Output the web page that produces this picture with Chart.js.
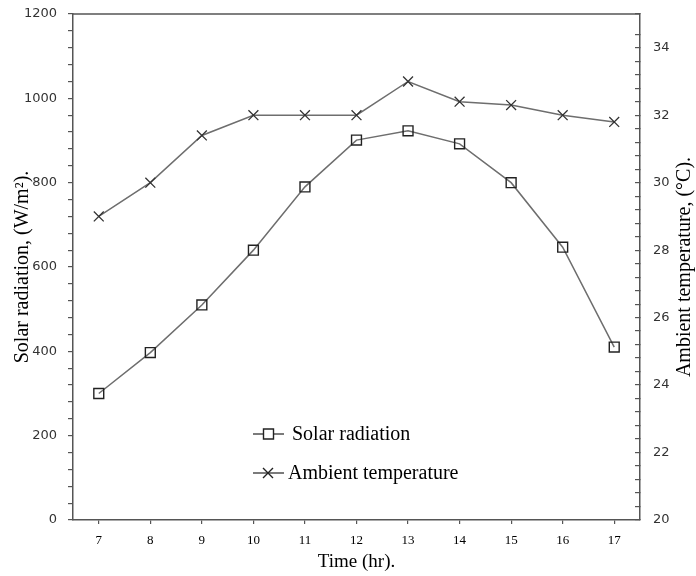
<!DOCTYPE html>
<html>
<head>
<meta charset="utf-8">
<script src="https://cdn.jsdelivr.net/npm/chart.js@4.4.1/dist/chart.umd.min.js"></script>
<style>
  html, body { margin: 0; padding: 0; background: #fff; }
  #wrap { width: 696px; height: 576px; }
</style>
</head>
<body>
<div id="wrap"><canvas id="chart" width="696" height="576"></canvas></div>
<script>
// values
const hours = ["7", "8", "9", "10", "11", "12", "13", "14", "15", "16", "17"];
const solarRadiation = [300, 397, 510, 640, 790, 901, 923, 892, 800, 647, 410];
const ambientTemp = [29.0, 30.0, 31.4, 32.0, 32.0, 32.0, 33.0, 32.4, 32.3, 32.0, 31.8];

const seriesNames = ["Solar radiation", "Ambient temperature"];

const axisColor = "#555";
const lineColor = "#6e6e6e";
const markColor = "#222";
const serif = "'Liberation Serif', 'Times New Roman', serif";
const sans = "'DejaVu Sans', Verdana, sans-serif";

// titles, legend and the top frame line
const decorations = {
  id: "decorations",
  afterDraw(chart) {
    const ctx = chart.ctx;
    const area = chart.chartArea;
    const midY = (area.top + area.bottom) / 2;

    ctx.save();
    ctx.strokeStyle = axisColor;
    ctx.lineWidth = 1.5;
    ctx.beginPath();
    ctx.moveTo(area.left, area.top);
    ctx.lineTo(area.right, area.top);
    ctx.stroke();

    ctx.fillStyle = "#000";
    ctx.font = "20px " + serif;
    ctx.textAlign = "center";
    ctx.textBaseline = "middle";

    ctx.save();
    ctx.translate(23, midY);
    ctx.rotate(-Math.PI / 2);
    ctx.fillText("Solar radiation, (W/m\u00b2).", 0, 0);
    ctx.restore();

    ctx.save();
    ctx.translate(685, midY);
    ctx.rotate(-Math.PI / 2);
    ctx.fillText("Ambient temperature, (\u00b0C).", 0, 0);
    ctx.restore();

    ctx.font = "19px " + serif;
    ctx.fillText("Time (hr).", (area.left + area.right) / 2, 562);

    // legend
    const rows = [434, 473];
    ctx.font = "20px " + serif;
    ctx.textAlign = "left";
    rows.forEach((y, i) => {
      ctx.strokeStyle = "#333";
      ctx.lineWidth = 1.3;
      ctx.beginPath();
      ctx.moveTo(253, y);
      ctx.lineTo(284, y);
      ctx.stroke();
      ctx.strokeStyle = markColor;
      ctx.lineWidth = 1.4;
      ctx.beginPath();
      if (i === 0) {
        ctx.rect(263.5, y - 5, 10, 10);
        ctx.fillStyle = "#fff";
        ctx.fill();
      } else {
        ctx.moveTo(263, y - 5); ctx.lineTo(273, y + 5);
        ctx.moveTo(263, y + 5); ctx.lineTo(273, y - 5);
      }
      ctx.stroke();
      ctx.fillStyle = "#000";
      ctx.fillText(seriesNames[i], i === 0 ? 292 : 288, y + 1);
    });
    ctx.restore();
  }
};

new Chart(document.getElementById("chart"), {
  type: "line",
  data: {
    labels: hours,
    datasets: [
      {
        label: seriesNames[0],
        data: solarRadiation,
        yAxisID: "y",
        borderColor: lineColor,
        borderWidth: 1.5,
        pointStyle: "rect",
        pointRadius: 7,
        pointBorderColor: markColor,
        pointBorderWidth: 1.4,
        pointBackgroundColor: "rgba(0,0,0,0)",
        tension: 0
      },
      {
        label: seriesNames[1],
        data: ambientTemp,
        yAxisID: "y2",
        borderColor: lineColor,
        borderWidth: 1.5,
        pointStyle: "crossRot",
        pointRadius: 7,
        pointBorderColor: "#333",
        pointBorderWidth: 1.3,
        tension: 0
      }
    ]
  },
  options: {
    responsive: false,
    animation: false,
    layout: { padding: { top: 14, left: 0, right: 0, bottom: 0 } },
    plugins: { legend: { display: false }, tooltip: { enabled: false } },
    scales: {
      x: {
        type: "category",
        offset: true,
        grid: { drawOnChartArea: false, drawTicks: true, tickLength: 4, color: axisColor, lineWidth: 1.2 },
        border: { color: axisColor, width: 1.5 },
        ticks: { font: { family: serif, size: 13 }, color: "#000", padding: 9 },
        afterFit: s => { s.height = 56; s.paddingLeft = 0; s.paddingRight = 0; }
      },
      y: {
        position: "left",
        min: 0,
        max: 1200,
        grid: { drawOnChartArea: false, drawTicks: true, tickLength: 5, color: axisColor, lineWidth: 1.2 },
        border: { color: axisColor, width: 1.5 },
        ticks: {
          stepSize: 40,
          autoSkip: false,
          font: { family: sans, size: 13 },
          color: "#333",
          padding: 11,
          callback: v => (v % 200 === 0 ? String(v) : "")
        },
        afterFit: s => { s.width = 73; s.paddingTop = 0; s.paddingBottom = 0; }
      },
      y2: {
        position: "right",
        min: 20,
        max: 35,
        grid: { drawOnChartArea: false, drawTicks: true, tickLength: -5, color: axisColor, lineWidth: 1.2 },
        border: { color: axisColor, width: 1.5 },
        ticks: {
          stepSize: 0.4,
          autoSkip: false,
          font: { family: sans, size: 13 },
          color: "#333",
          padding: 18,
          callback: v => {
            const r = Math.round(v);
            return Math.abs(v - r) < 1e-6 && r % 2 === 0 && r < 35 ? String(r) : "";
          }
        },
        afterFit: s => { s.width = 56; s.paddingTop = 0; s.paddingBottom = 0; }
      }
    }
  },
  plugins: [decorations]
});
</script>
</body>
</html>
